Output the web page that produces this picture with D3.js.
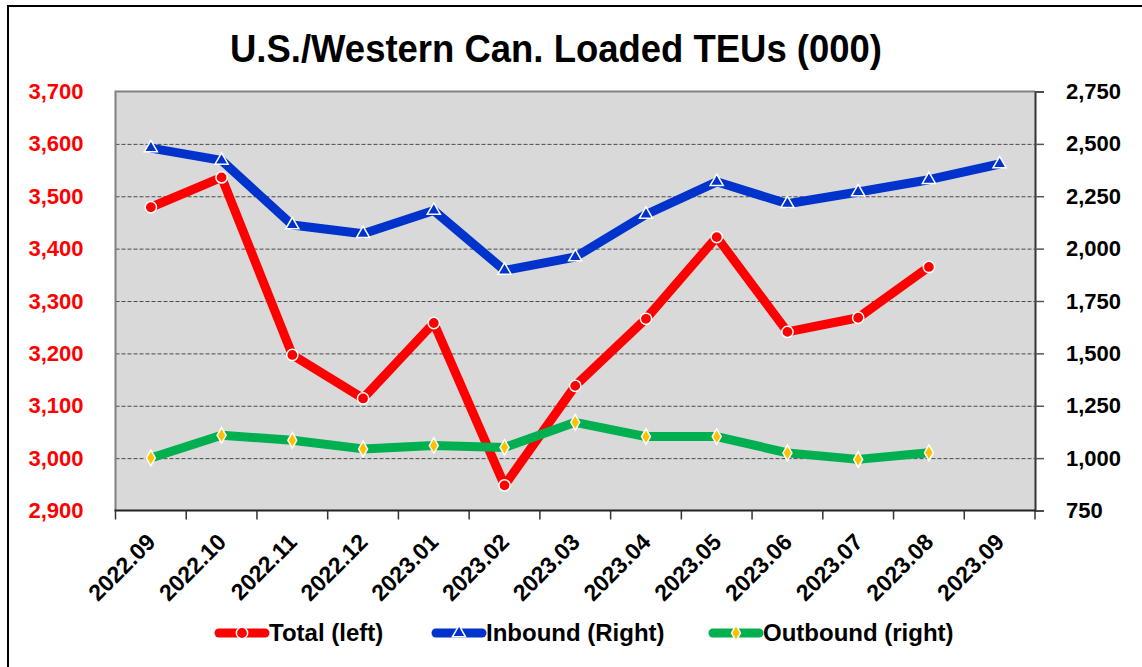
<!DOCTYPE html>
<html>
<head>
<meta charset="utf-8">
<script src="https://cdn.jsdelivr.net/npm/d3@7"></script>
<style>
  body { margin: 0; background: #fff; }
  svg { display: block; font-family: "Liberation Sans", Arial, sans-serif; }
</style>
</head>
<body>
<svg id="chart" width="1142" height="667"></svg>
<script>
// data
var months = ["2022.09", "2022.10", "2022.11", "2022.12", "2023.01", "2023.02", "2023.03",
              "2023.04", "2023.05", "2023.06", "2023.07", "2023.08", "2023.09"];
var totalLeft = [3479, 3536, 3197, 3114, 3258, 2948, 3138, 3266, 3422, 3241, 3268, 3365, null];
var inboundRight = [2480, 2421, 2113, 2071, 2182, 1896, 1960, 2163, 2319, 2214, 2270, 2329, 2404];
var outboundRight = [1001, 1109, 1085, 1044, 1060, 1051, 1171, 1103, 1103, 1025, 994, 1026, null];
var leftTicks = [2900, 3000, 3100, 3200, 3300, 3400, 3500, 3600, 3700];
var rightTicks = [750, 1000, 1250, 1500, 1750, 2000, 2250, 2500, 2750];
var seriesNames = ["Total (left)", "Inbound (Right)", "Outbound (right)"];

var plot = { left: 115.5, right: 1035, top: 91.5, bottom: 510.5 };
var svg = d3.select("#chart");

var x = d3.scaleBand().domain(months).range([plot.left, plot.right]).padding(0);
var yLeft = d3.scaleLinear().domain([2900, 3700]).range([plot.bottom, plot.top]);
var yRight = d3.scaleLinear().domain([750, 2750]).range([plot.bottom, plot.top]);
var fmt = d3.format(",");

function cx(m) { return x(m) + x.bandwidth() / 2; }

// outer frame
svg.append("rect")
    .attr("x", 8).attr("y", 6)
    .attr("width", 1150).attr("height", 680)
    .attr("fill", "none").attr("stroke", "#000").attr("stroke-width", 2);

// title
svg.append("text")
    .attr("x", 556).attr("y", 62)
    .attr("text-anchor", "middle")
    .attr("font-size", 38).attr("font-weight", "bold")
    .attr("textLength", 652).attr("lengthAdjust", "spacingAndGlyphs")
    .text("U.S./Western Can. Loaded TEUs (000)");

// plot background
svg.append("rect")
    .attr("x", plot.left).attr("y", plot.top)
    .attr("width", plot.right - plot.left).attr("height", plot.bottom - plot.top)
    .attr("fill", "#d9d9d9");

// gridlines
svg.append("g")
    .attr("transform", "translate(" + plot.left + ",0)")
    .call(d3.axisLeft(yLeft)
        .tickValues(leftTicks.slice(1, -1))
        .tickSize(-(plot.right - plot.left))
        .tickFormat(""))
    .call(function(g) { g.select(".domain").remove(); })
    .selectAll("line")
    .attr("stroke", "#4a4a4a")
    .attr("stroke-width", 1)
    .attr("stroke-dasharray", "4,2");

// plot border top / left
svg.append("path")
    .attr("d", "M" + plot.left + "," + plot.bottom + "V" + plot.top + "H" + plot.right)
    .attr("fill", "none").attr("stroke", "#808080").attr("stroke-width", 2);

// left axis labels
svg.append("g")
    .attr("transform", "translate(" + plot.left + ",0)")
    .call(d3.axisLeft(yLeft).tickValues(leftTicks).tickSize(0).tickPadding(32).tickFormat(fmt))
    .call(function(g) { g.select(".domain").remove(); })
    .selectAll("text")
    .attr("fill", "#ff0000")
    .attr("font-size", 22).attr("font-weight", "bold")
    .attr("font-family", "Liberation Sans, Arial, sans-serif");

// right axis
var rAxis = svg.append("g")
    .attr("transform", "translate(" + plot.right + ",0)")
    .call(d3.axisRight(yRight).tickValues(rightTicks).tickSize(9).tickPadding(22).tickFormat(fmt));
rAxis.select(".domain").attr("stroke", "#333").attr("stroke-width", 2);
rAxis.selectAll("line").attr("stroke", "#555").attr("stroke-width", 1.5);
rAxis.selectAll("text")
    .attr("fill", "#000")
    .attr("font-size", 22).attr("font-weight", "bold")
    .attr("font-family", "Liberation Sans, Arial, sans-serif");

// x axis line and boundary ticks
var bounds = d3.range(months.length + 1).map(function(i) { return plot.left + i * x.step(); });
svg.append("line")
    .attr("x1", plot.left - 1).attr("x2", plot.right + 1)
    .attr("y1", plot.bottom).attr("y2", plot.bottom)
    .attr("stroke", "#222").attr("stroke-width", 2);
svg.append("g").selectAll("line")
    .data(bounds)
    .enter().append("line")
    .attr("x1", function(d) { return d; }).attr("x2", function(d) { return d; })
    .attr("y1", plot.bottom).attr("y2", plot.bottom + 9)
    .attr("stroke", "#333").attr("stroke-width", 1.5);

// x labels
var xAxis = svg.append("g")
    .attr("transform", "translate(0," + plot.bottom + ")")
    .call(d3.axisBottom(x).tickSize(0));
xAxis.select(".domain").remove();
xAxis.selectAll("text")
    .attr("x", 0).attr("y", 0).attr("dy", 0)
    .attr("text-anchor", "end")
    .attr("transform", "translate(6,33) rotate(-45)")
    .attr("fill", "#000")
    .attr("font-size", 23).attr("font-weight", "bold")
    .attr("font-family", "Liberation Sans, Arial, sans-serif");

// series
var series = [
    { name: seriesNames[0], values: totalLeft, y: yLeft, color: "#ff0000", marker: "circle", markerFill: "#ff0000" },
    { name: seriesNames[1], values: inboundRight, y: yRight, color: "#0033cc", marker: "triangle", markerFill: "#0033cc" },
    { name: seriesNames[2], values: outboundRight, y: yRight, color: "#00b050", marker: "diamond", markerFill: "#ffc000" }
];

var symbolTypes = {
    circle: d3.symbolCircle,
    triangle: d3.symbolTriangle,
    diamond: d3.symbolDiamond
};
var symbolSizes = { circle: 100, triangle: 75, diamond: 70 };

function drawSeries(s)
{
    var pts = months.map(function(m, i) { return { m: m, v: s.values[i] }; })
        .filter(function(d) { return d.v != null; });

    var line = d3.line()
        .x(function(d) { return cx(d.m); })
        .y(function(d) { return s.y(d.v); });

    svg.append("path")
        .datum(pts)
        .attr("d", line)
        .attr("fill", "none")
        .attr("stroke", s.color)
        .attr("stroke-width", 9)
        .attr("stroke-linejoin", "round");

    svg.append("g").selectAll("path")
        .data(pts)
        .enter().append("path")
        .attr("d", d3.symbol().type(symbolTypes[s.marker]).size(symbolSizes[s.marker]))
        .attr("transform", function(d) { return "translate(" + cx(d.m) + "," + s.y(d.v) + ")"; })
        .attr("fill", s.markerFill)
        .attr("stroke", "#fff")
        .attr("stroke-width", 1.5);
}

series.forEach(drawSeries);

// legend
var legendX = [215, 432, 709];
var legendY = 633;
series.forEach(function(s, i)
{
    var g = svg.append("g").attr("transform", "translate(" + legendX[i] + "," + legendY + ")");
    g.append("line")
        .attr("x1", 4).attr("x2", 50)
        .attr("y1", 0).attr("y2", 0)
        .attr("stroke", s.color).attr("stroke-width", 9)
        .attr("stroke-linecap", "round");
    g.append("path")
        .attr("d", d3.symbol().type(symbolTypes[s.marker]).size(symbolSizes[s.marker]))
        .attr("transform", "translate(27,0)")
        .attr("fill", s.markerFill)
        .attr("stroke", "#fff").attr("stroke-width", 1.5);
    g.append("text")
        .attr("x", 54).attr("y", 8)
        .attr("font-size", 24).attr("font-weight", "bold")
        .attr("fill", "#000")
        .text(s.name);
});
</script>
</body>
</html>
